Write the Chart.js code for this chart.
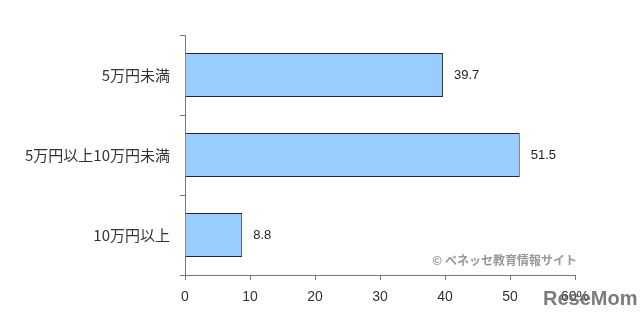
<!DOCTYPE html>
<html>
<head>
<meta charset="utf-8">
<script src="https://cdn.jsdelivr.net/npm/chart.js@4/dist/chart.umd.min.js"></script>
<style>
  html, body { margin: 0; padding: 0; background: #fff; }
  #wrap { width: 640px; height: 321px; }
</style>
</head>
<body>
<div id="wrap"><canvas id="chart" width="640" height="321"></canvas></div>
<script>
const categories = ['5万円未満', '5万円以上10万円未満', '10万円以上'];
const values = [39.7, 51.5, 8.8];
const xTicks = [0, 10, 20, 30, 40, 50, 60];

const font = '"Noto Sans CJK JP", "DejaVu Sans", sans-serif';

// numbers to the right of each bar
const valueLabels = {
  id: 'valueLabels',
  afterDatasetsDraw(chart) {
    const ctx = chart.ctx;
    const meta = chart.getDatasetMeta(0);
    ctx.save();
    ctx.font = '13px "Liberation Sans", Arial, sans-serif';
    ctx.fillStyle = '#222';
    ctx.textAlign = 'left';
    ctx.textBaseline = 'middle';
    meta.data.forEach((bar, i) => {
      ctx.fillText(values[i].toFixed(1), bar.x + 11, bar.y);
    });
    ctx.restore();
  }
};

// credit + site mark
const marks = {
  id: 'marks',
  afterDraw(chart) {
    const ctx = chart.ctx;
    ctx.save();
    ctx.fillStyle = '#999';
    ctx.font = 'bold 12px ' + font;
    ctx.textAlign = 'left';
    ctx.textBaseline = 'middle';
    ctx.fillText('© ベネッセ教育情報サイト', 432, 260);
    ctx.fillStyle = 'rgba(110,110,110,0.9)';
    ctx.font = 'bold 20px "Liberation Sans", sans-serif';
    ctx.fillText('ReseMom', 543, 299);
    ctx.restore();
  }
};

new Chart(document.getElementById('chart'), {
  type: 'bar',
  data: {
    labels: categories,
    datasets: [{
      data: values,
      backgroundColor: '#99ccff',
      borderColor: '#1f2a3a',
      borderWidth: 1,
      barPercentage: 0.55,
      categoryPercentage: 1.0
    }]
  },
  options: {
    indexAxis: 'y',
    responsive: false,
    animation: false,
    layout: { padding: { top: 35, right: 65, bottom: 0, left: 0 } },
    plugins: {
      legend: { display: false },
      tooltip: { enabled: false }
    },
    scales: {
      x: {
        min: 0,
        max: 60,
        afterBuildTicks: (scale) => { scale.ticks = xTicks.map(v => ({ value: v })); },
        afterFit: (scale) => { scale.height = 46; },
        grid: { drawOnChartArea: false, drawTicks: true, tickLength: 5, color: '#777' },
        border: { color: '#777' },
        ticks: {
          color: '#333',
          padding: 9,
          font: { family: '"Liberation Sans", Arial, sans-serif', size: 14 },
          callback: (v) => v === 60 ? '60%' : v
        }
      },
      y: {
        offset: true,
        afterFit: (scale) => { scale.width = 185; },
        grid: { offset: true, drawOnChartArea: false, drawTicks: true, tickLength: 5, color: '#777' },
        border: { color: '#777' },
        ticks: {
          color: '#333',
          padding: 10,
          font: { family: font, size: 15 }
        }
      }
    }
  },
  plugins: [valueLabels, marks]
});
</script>
</body>
</html>
